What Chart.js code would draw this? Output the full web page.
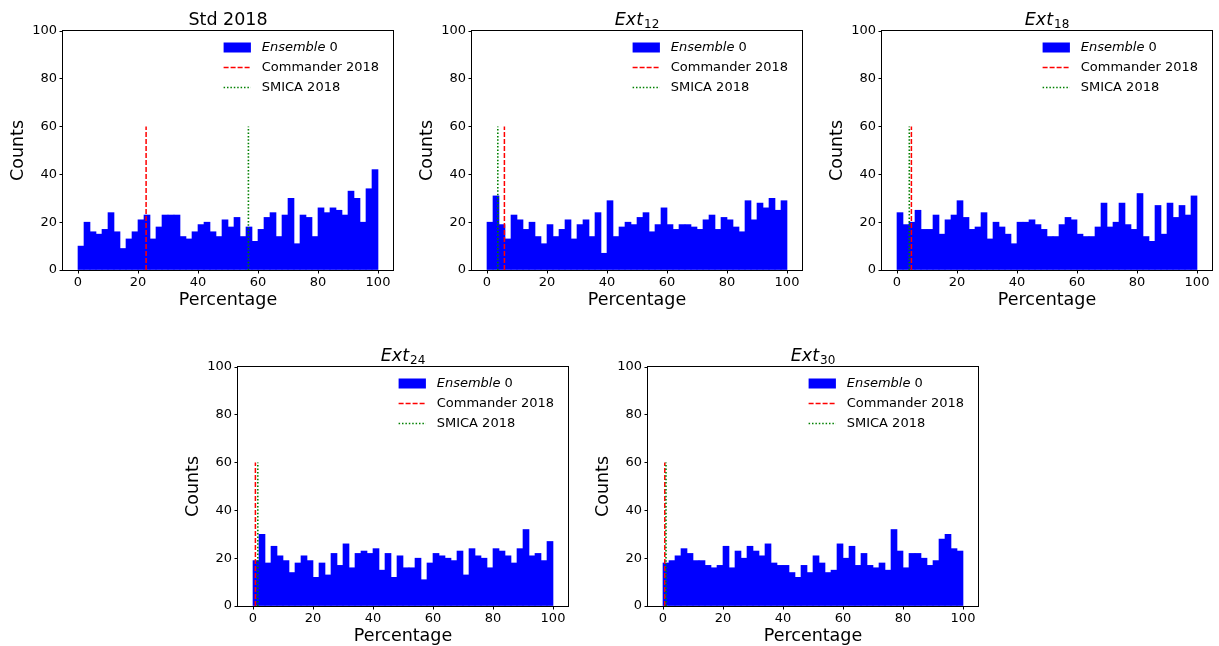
<!DOCTYPE html>
<html>
<head>
<meta charset="utf-8">
<script src="https://cdn.jsdelivr.net/npm/chart.js@4.4.1/dist/chart.umd.min.js"></script>
<style>
  html, body { margin: 0; padding: 0; background: #fff; }
  #wrap { position: relative; width: 1219px; height: 646px; overflow: hidden; background: #fff; }
  #wrap canvas { position: absolute; }
</style>
</head>
<body>
<div id="wrap">
  <canvas id="c1" width="413" height="320" style="left:0px;top:0px"></canvas>
  <canvas id="c2" width="413" height="320" style="left:409px;top:0px"></canvas>
  <canvas id="c3" width="413" height="320" style="left:819px;top:0px"></canvas>
  <canvas id="c4" width="413" height="320" style="left:175px;top:336px"></canvas>
  <canvas id="c5" width="413" height="320" style="left:585px;top:336px"></canvas>
</div>
<script>
// histogram counts, 50 bins of width 2 over 0..100
const binWidth = 2;
const std2018 = [10, 20, 16, 15, 17, 24, 16, 9, 13, 16, 21, 23, 13, 18, 23, 23, 23, 14, 13, 16, 19, 20, 16, 14, 21, 18, 22, 14, 18, 12, 17, 22, 24, 14, 23, 30, 11, 23, 22, 14, 26, 24, 26, 25, 23, 33, 30, 20, 34, 42];
const ext12 = [20, 31, 19, 13, 23, 21, 17, 20, 14, 11, 19, 14, 17, 21, 13, 19, 21, 14, 24, 7, 29, 14, 18, 20, 19, 22, 24, 16, 19, 26, 19, 17, 19, 19, 18, 17, 21, 23, 17, 22, 21, 18, 16, 29, 21, 28, 26, 30, 25, 29];
const ext18 = [24, 19, 20, 25, 17, 17, 23, 15, 21, 23, 29, 22, 17, 18, 24, 13, 20, 18, 15, 11, 20, 20, 21, 19, 17, 14, 14, 19, 22, 21, 15, 14, 14, 18, 28, 18, 20, 28, 19, 17, 32, 14, 12, 27, 15, 28, 22, 27, 23, 31];
const ext24 = [19, 30, 18, 25, 21, 19, 14, 18, 21, 19, 12, 18, 13, 22, 17, 26, 16, 22, 23, 22, 24, 15, 22, 12, 21, 16, 16, 20, 11, 18, 22, 21, 20, 19, 23, 13, 24, 21, 20, 16, 24, 23, 21, 18, 24, 32, 21, 22, 19, 27];
const ext30 = [18, 19, 21, 24, 22, 19, 19, 17, 16, 17, 25, 16, 23, 20, 25, 23, 21, 26, 18, 17, 17, 14, 12, 17, 14, 21, 18, 14, 15, 26, 20, 25, 17, 22, 17, 16, 18, 15, 32, 23, 16, 22, 22, 20, 17, 19, 28, 30, 24, 23];

// reference lines (percentage) per panel
const commander2018 = [22.7, 5.8, 4.8, 0.8, 0.6];
const smica2018 = [56.8, 3.6, 4.1, 1.6, 1.0];
const lineHeight = 60;

const xTicks = [0, 20, 40, 60, 80, 100];
const yTicks = [0, 20, 40, 60, 80, 100];

const panels = [
    { id: 'c1', title: 'Std 2018', sub: null, counts: std2018 },
    { id: 'c2', title: 'Ext', sub: '12', counts: ext12 },
    { id: 'c3', title: 'Ext', sub: '18', counts: ext18 },
    { id: 'c4', title: 'Ext', sub: '24', counts: ext24 },
    { id: 'c5', title: 'Ext', sub: '30', counts: ext30 },
];

const FONT = "'DejaVu Sans', sans-serif";
Chart.defaults.font.family = FONT;
Chart.defaults.color = '#000';

// title, axis titles, spines and legend drawn inside the axes
const deco = {
    id: 'deco',
    afterDraw(chart, args, opts) {
        const ctx = chart.ctx;
        const a = chart.chartArea;
        ctx.save();

        // spines
        ctx.strokeStyle = '#000';
        ctx.lineWidth = 1;
        ctx.strokeRect(a.left - 0.5, a.top - 0.5, a.right - a.left + 1, a.bottom - a.top + 1);

        ctx.fillStyle = '#000';
        // title
        const cx = (a.left + a.right) / 2;
        ctx.textBaseline = 'alphabetic';
        ctx.textAlign = 'left';
        if (opts.sub) {
            ctx.font = 'italic 17.5px ' + FONT;
            const w1 = ctx.measureText(opts.title).width;
            ctx.font = '12px ' + FONT;
            const w2 = ctx.measureText(opts.sub).width;
            const x0 = cx - (w1 + w2 + 1) / 2;
            ctx.font = 'italic 17.5px ' + FONT;
            ctx.fillText(opts.title, x0, a.top - 6);
            ctx.font = '12px ' + FONT;
            ctx.fillText(opts.sub, x0 + w1 + 1, a.top - 3);
        } else {
            ctx.font = '17.5px ' + FONT;
            ctx.textAlign = 'center';
            ctx.fillText(opts.title, cx, a.top - 6);
        }

        // axis titles
        ctx.font = '17.5px ' + FONT;
        ctx.textAlign = 'center';
        ctx.textBaseline = 'middle';
        ctx.fillText('Percentage', cx, a.bottom + 30);
        ctx.save();
        ctx.translate(a.left - 44.5, (a.top + a.bottom) / 2);
        ctx.rotate(-Math.PI / 2);
        ctx.fillText('Counts', 0, 0);
        ctx.restore();

        // legend
        const sx = a.right - 169.4;
        const tx = a.right - 131.3;
        const ry = a.top + 16.5;
        ctx.fillStyle = '#0000ff';
        ctx.fillRect(sx, ry - 5, 27.3, 10);

        ctx.lineWidth = 1.5;
        ctx.strokeStyle = '#ff0000';
        ctx.setLineDash([5, 2]);
        ctx.beginPath();
        ctx.moveTo(sx, ry + 20);
        ctx.lineTo(sx + 27.3, ry + 20);
        ctx.stroke();

        ctx.strokeStyle = '#008000';
        ctx.setLineDash([1.5, 1.9]);
        ctx.beginPath();
        ctx.moveTo(sx, ry + 40);
        ctx.lineTo(sx + 27.3, ry + 40);
        ctx.stroke();
        ctx.setLineDash([]);

        ctx.fillStyle = '#000';
        ctx.textAlign = 'left';
        ctx.textBaseline = 'middle';
        ctx.font = 'italic 13px ' + FONT;
        ctx.fillText('Ensemble', tx, ry);
        const we = ctx.measureText('Ensemble').width;
        ctx.font = '13px ' + FONT;
        ctx.fillText(' 0', tx + we, ry);
        ctx.fillText('Commander 2018', tx, ry + 20);
        ctx.fillText('SMICA 2018', tx, ry + 40);

        ctx.restore();
    }
};

panels.forEach(function (p, k) {
    const bars = p.counts.map((c, i) => ({ x: i * binWidth + binWidth / 2, y: c }));
    const config = {
        type: 'bar',
        data: {
            datasets: [
                {
                    label: 'Ensemble 0',
                    data: bars,
                    backgroundColor: '#0000ff',
                    borderWidth: 0,
                    barPercentage: 1,
                    categoryPercentage: 1,
                    order: 3,
                },
                {
                    type: 'line',
                    label: 'Commander 2018',
                    data: [{ x: commander2018[k], y: 0 }, { x: commander2018[k], y: lineHeight }],
                    borderColor: '#ff0000',
                    borderWidth: 1.5,
                    borderDash: [5, 2],
                    pointRadius: 0,
                    fill: false,
                    order: 2,
                },
                {
                    type: 'line',
                    label: 'SMICA 2018',
                    data: [{ x: smica2018[k], y: 0 }, { x: smica2018[k], y: lineHeight }],
                    borderColor: '#008000',
                    borderWidth: 1.6,
                    borderDash: [1.5, 1.9],
                    pointRadius: 0,
                    fill: false,
                    order: 1,
                },
            ]
        },
        options: {
            responsive: false,
            animation: false,
            events: [],
            layout: {
                padding: { top: 31, right: 20, left: 0, bottom: 0 }
            },
            plugins: {
                legend: { display: false },
                tooltip: { enabled: false },
                title: { display: false },
                deco: { title: p.title, sub: p.sub },
            },
            scales: {
                x: {
                    type: 'linear',
                    min: -5,
                    max: 105,
                    offset: false,
                    afterFit: s => { s.height = 50; },
                    afterBuildTicks: s => { s.ticks = xTicks.map(v => ({ value: v })); },
                    border: { display: false },
                    grid: {
                        offset: false,
                        drawOnChartArea: false,
                        drawTicks: true,
                        tickLength: 3.5,
                        color: '#000',
                    },
                    ticks: {
                        padding: 1,
                        maxRotation: 0,
                        color: '#000',
                        font: { size: 13 },
                    },
                },
                y: {
                    min: 0,
                    max: 100,
                    afterFit: s => { s.width = 63; },
                    afterBuildTicks: s => { s.ticks = yTicks.map(v => ({ value: v })); },
                    border: { display: false },
                    grid: {
                        drawOnChartArea: false,
                        drawTicks: true,
                        tickLength: 3.5,
                        color: '#000',
                    },
                    ticks: {
                        padding: 2.5,
                        color: '#000',
                        font: { size: 13 },
                    },
                },
            },
        },
        plugins: [deco],
    };
    var ctx = document.getElementById(p.id).getContext('2d');
    new Chart(ctx, config);
});
</script>
</body>
</html>
